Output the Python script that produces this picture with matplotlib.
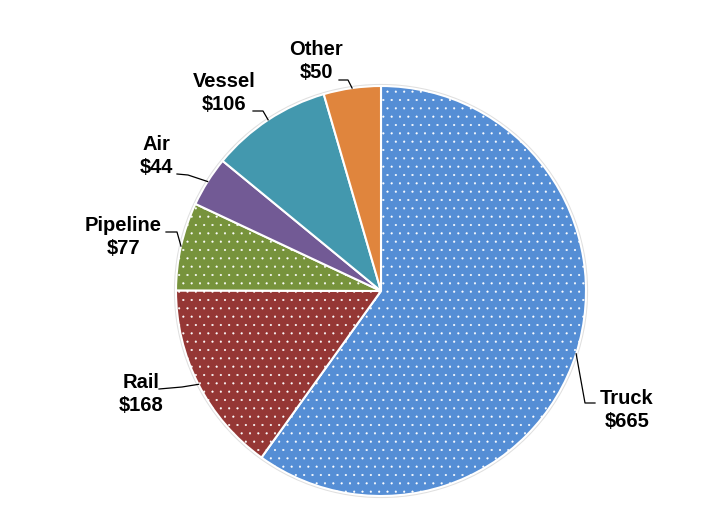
"""
Freight value by mode: pie chart with leader-line labels (Excel style).
"""
import numpy as np
import matplotlib
matplotlib.use("Agg")
import matplotlib.pyplot as plt

# --- data ---
modes = ["Truck", "Rail", "Pipeline", "Air", "Vessel", "Other"]
values = [665, 168, 77, 44, 106, 50]
colors = ["#558ED5", "#953735", "#77933C", "#725A95", "#4398AE", "#E0853D"]
hatches = ["..", "..", "..", None, None, None]

# --- layout (pixels in the 725x523 image) ---
W, H = 725, 523
CX, CY, R = 381, 291, 205
# centre of each two-line label
label_pos = {
    "Truck": (627, 410), "Rail": (141, 394), "Pipeline": (123, 237),
    "Air": (156, 156), "Vessel": (224, 93), "Other": (316, 61),
}
# leader: start next to the text, elbow, then to wedge edge
leader_pts = {
    "Truck": [(595, 403), (585, 403)],
    "Rail": [(159, 389), (182, 387)],
    "Pipeline": [(166, 232), (177, 232)],
    "Air": [(177, 174), (188, 175)],
    "Vessel": [(253, 111), (263, 111)],
    "Other": [(339, 80), (348, 80)],
}


def px(x, y):
    return (x - CX) / R, (CY - y) / R


plt.rcParams["font.family"] = ["Liberation Sans", "DejaVu Sans"]
plt.rcParams["hatch.linewidth"] = 0.3

fig = plt.figure(figsize=(W / 100, H / 100), dpi=100)
ax = fig.add_axes([0, 0, 1, 1])

# soft grey rim behind the pie
rim = plt.Circle((0, 0), 1.0, facecolor="none", edgecolor="#e0e0e0", lw=3, zorder=0)
ax.add_patch(rim)

wedges, _ = ax.pie(values, colors=colors, startangle=90, counterclock=False,
                   radius=1.0, wedgeprops=dict(edgecolor="white", linewidth=1.5))
for w, h in zip(wedges, hatches):
    if h:
        w.set_hatch(h)

for w, name, val in zip(wedges, modes, values):
    mid = np.deg2rad((w.theta1 + w.theta2) / 2)
    edge = (np.cos(mid), np.sin(mid))
    pts = [px(*p) for p in leader_pts[name]] + [edge]
    xs, ys = zip(*pts)
    ax.plot(xs, ys, color="black", lw=0.9, zorder=5)
    lx, ly = px(*label_pos[name])
    ax.text(lx, ly, f"{name}\n${val}", ha="center", va="center",
            multialignment="center", fontsize=14.5, fontweight="bold",
            linespacing=1.25, zorder=6)

ax.set_xlim(-CX / R, (W - CX) / R)
ax.set_ylim(-(H - CY) / R, CY / R)
ax.set_aspect("auto")
ax.axis("off")

fig.savefig("out.png", dpi=100)
plt.close(fig)
